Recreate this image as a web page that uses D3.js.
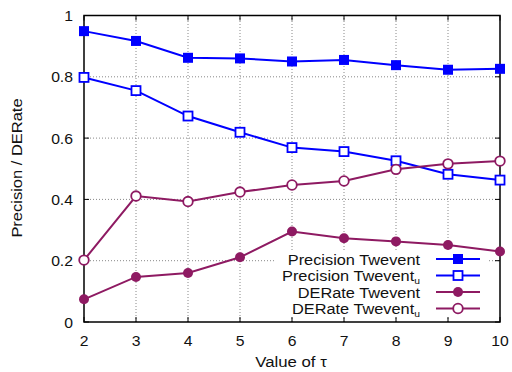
<!DOCTYPE html>
<html><head><meta charset="utf-8">
<script src="https://cdn.jsdelivr.net/npm/d3@7"></script>
<style>body{margin:0;background:#fff}svg{display:block}text{font-family:"Liberation Sans",Arial,sans-serif;fill:#111}</style>
</head><body>
<svg id="c" width="512" height="372"></svg>
<script>
const tau = [2,3,4,5,6,7,8,9,10];
const precisionTwevent  = [0.949,0.917,0.862,0.860,0.850,0.855,0.838,0.823,0.826];
const precisionTweventU = [0.798,0.755,0.672,0.619,0.569,0.556,0.526,0.482,0.463];
const derateTwevent     = [0.074,0.147,0.160,0.211,0.295,0.273,0.263,0.251,0.230];
const derateTweventU    = [0.202,0.411,0.393,0.424,0.447,0.460,0.498,0.516,0.525];
const xTicks = [2,3,4,5,6,7,8,9,10];
const yTicks = [0,0.2,0.4,0.6,0.8,1];
const yTickLabels = ["0","0.2","0.4","0.6","0.8","1"];
const legendNames = [["Precision Twevent",""],["Precision Twevent","u"],["DERate Twevent",""],["DERate Twevent","u"]];

const BLUE="#0000ff", PURP="#8e1a62";
const L=84, R=500, T=15.5, B=322;
const svg=d3.select("#c");
const x=d3.scaleLinear().domain([2,10]).range([L,R]);
const y=d3.scaleLinear().domain([0,1]).range([B,T]);

function stext(px,py,sx,anchor,size,rot){
  const gg=svg.append("g").attr("transform",`translate(${px},${py})`+(rot?` rotate(${rot})`:"")+` scale(${sx},1)`);
  return gg.append("text").attr("x",0).attr("y",0).attr("text-anchor",anchor).attr("font-size",size);
}

// grid
const g=svg.append("g");
g.selectAll(".gx").data(xTicks.slice(1,-1)).join("line")
 .attr("x1",d=>x(d)).attr("x2",d=>x(d)).attr("y1",B).attr("y2",T)
 .attr("stroke","#888").attr("stroke-width",1).attr("stroke-dasharray","1,2");
g.selectAll(".gy").data(yTicks.slice(1,-1)).join("line")
 .attr("x1",L).attr("x2",R).attr("y1",d=>y(d)).attr("y2",d=>y(d))
 .attr("stroke","#888").attr("stroke-width",1).attr("stroke-dasharray","1,2");

// legend background
svg.append("rect").attr("x",276).attr("y",252).attr("width",212).attr("height",64).attr("fill","#fff");

// ticks (inward on all sides)
const tk=svg.append("g").attr("stroke","#000").attr("stroke-width",1);
xTicks.forEach(d=>{
  tk.append("line").attr("x1",x(d)).attr("x2",x(d)).attr("y1",B).attr("y2",B-5);
  tk.append("line").attr("x1",x(d)).attr("x2",x(d)).attr("y1",T).attr("y2",T+5);
});
yTicks.forEach(d=>{
  tk.append("line").attr("x1",L).attr("x2",L+5).attr("y1",y(d)).attr("y2",y(d));
  tk.append("line").attr("x1",R).attr("x2",R-5).attr("y1",y(d)).attr("y2",y(d));
});

// border
svg.append("rect").attr("x",L).attr("y",T).attr("width",R-L).attr("height",B-T)
 .attr("fill","none").attr("stroke","#000").attr("stroke-width",1.5);

// tick labels
xTicks.forEach(d=>stext(x(d),346,1.05,"middle",15).text(d));
yTicks.forEach((d,i)=>stext(73,y(d)+5.5,1.05,"end",15).text(yTickLabels[i]));

// axis titles
stext(291,367,1.12,"middle",15).text("Value of τ");
stext(22,168,1.1,"middle",15,-90).text("Precision / DERate");

// series
const series=[
 {v:precisionTwevent,c:BLUE,m:"sq",fill:true},
 {v:precisionTweventU,c:BLUE,m:"sq",fill:false},
 {v:derateTwevent,c:PURP,m:"ci",fill:true},
 {v:derateTweventU,c:PURP,m:"ci",fill:false}
];
const line=d3.line().x((d,i)=>x(tau[i])).y(d=>y(d));
function marker(sel,s){
  if(s.m==="sq"){
    const sz=s.fill?10:9;
    sel.append("rect").attr("x",-sz/2).attr("y",-sz/2).attr("width",sz).attr("height",sz)
      .attr("fill",s.fill?s.c:"#fff").attr("stroke",s.c).attr("stroke-width",s.fill?0:1.8);
  } else {
    sel.append("circle").attr("r",s.fill?5:4.8)
      .attr("fill",s.fill?s.c:"#fff").attr("stroke",s.c).attr("stroke-width",s.fill?0:1.8);
  }
}
series.forEach(s=>{
  svg.append("path").datum(s.v).attr("d",line).attr("fill","none").attr("stroke",s.c).attr("stroke-width",2);
});
series.forEach(s=>{
  s.v.forEach((d,i)=>{
    const gm=svg.append("g").attr("transform",`translate(${x(tau[i])},${y(d)})`);
    marker(gm,s);
  });
});

// legend
const ly=[259,275.5,292,308.5];
legendNames.forEach((n,i)=>{
  const s=series[i];
  const t=stext(420,ly[i]+5.5,1.09,"end",15);
  t.append("tspan").text(n[0]);
  if(n[1]) t.append("tspan").attr("font-size",9.5).attr("dy",2.5).text(n[1]);
  svg.append("line").attr("x1",436).attr("x2",480).attr("y1",ly[i]).attr("y2",ly[i]).attr("stroke",s.c).attr("stroke-width",2);
  const gm=svg.append("g").attr("transform",`translate(458,${ly[i]})`);
  marker(gm,s);
});
</script>
</body></html>
